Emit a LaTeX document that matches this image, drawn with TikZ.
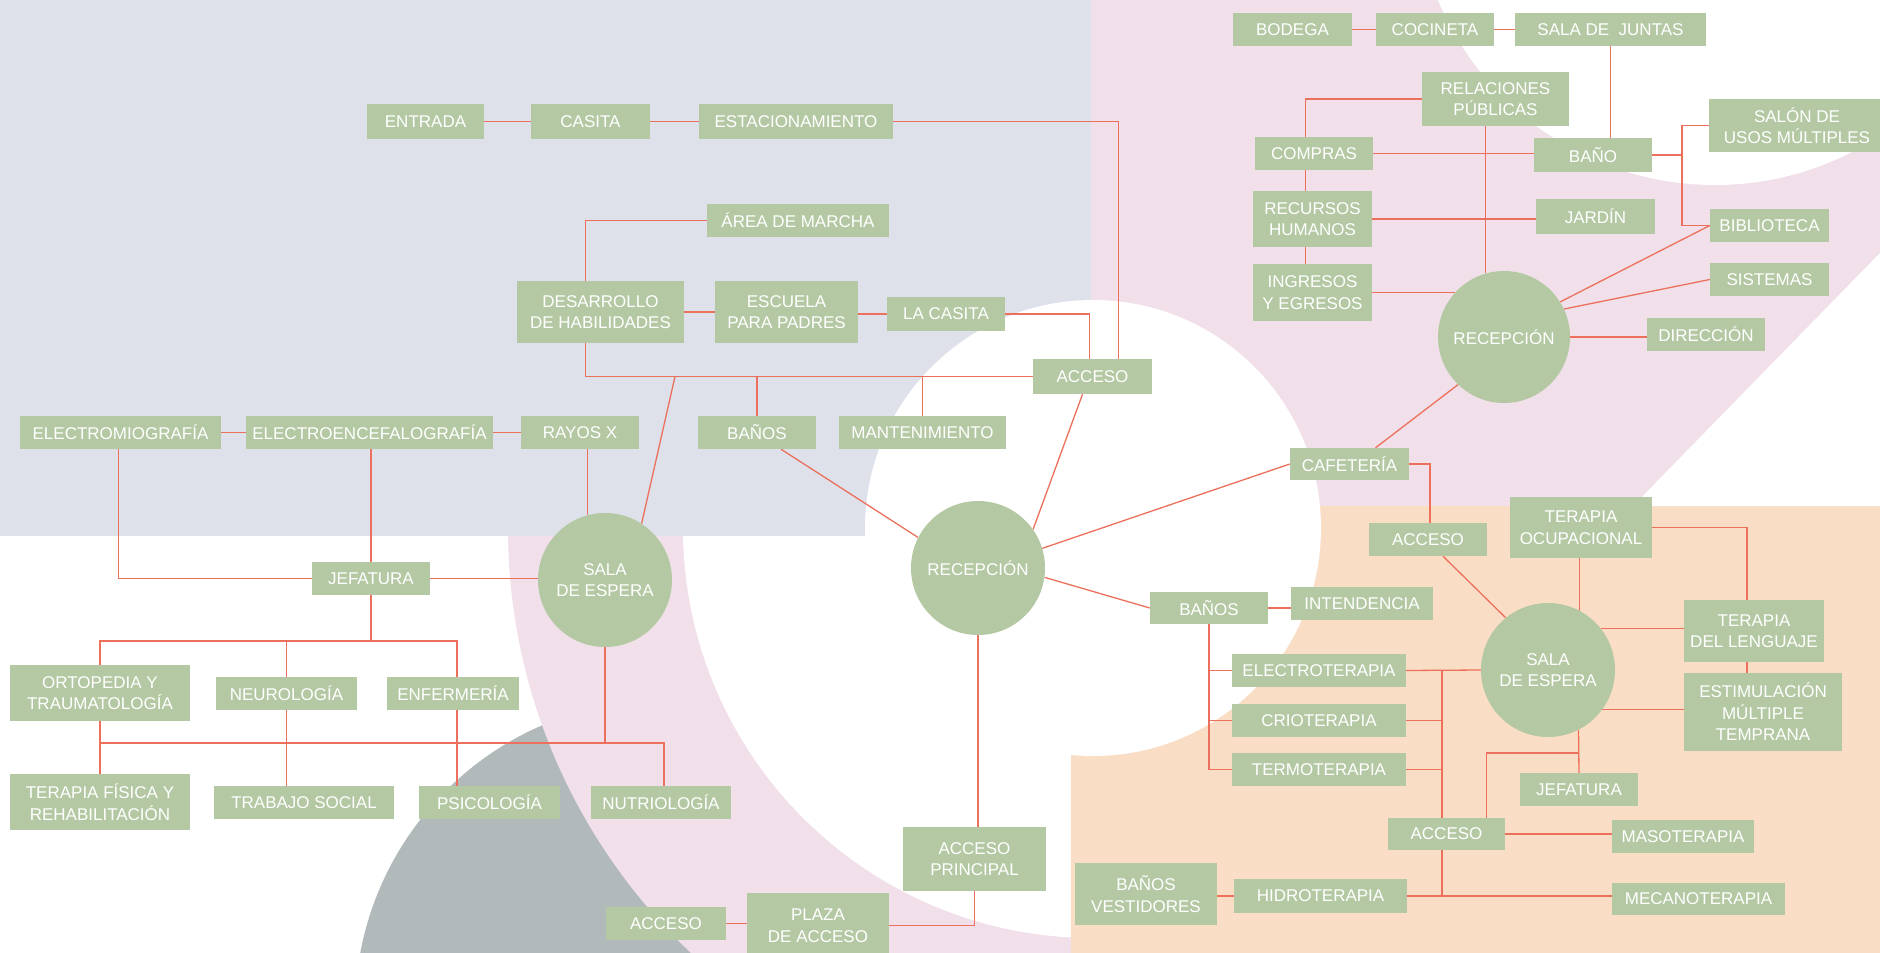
\documentclass[tikz,border=0pt]{standalone}
\usepackage{fontspec}
\setmainfont{Liberation Sans}
\definecolor{boxgreen}{RGB}{180,201,163}
\definecolor{linered}{RGB}{236,112,92}
\definecolor{lavbg}{RGB}{222,225,234}
\definecolor{pinkbg}{RGB}{241,224,234}
\definecolor{peachbg}{RGB}{250,221,197}
\definecolor{greybg}{RGB}{177,185,187}
\pgfdeclarelayer{back}
\pgfdeclarelayer{wires}
\pgfsetlayers{back,wires,main}
\begin{document}
\begin{tikzpicture}[x=1pt, y=-1pt,
  room/.style={fill=boxgreen, text=white, inner sep=0pt, minimum height=33pt, align=center, font=\fontsize{17}{21.5}\selectfont},
  hub/.style={circle, fill=boxgreen, text=white, inner sep=0pt, minimum size=134pt, align=center, font=\fontsize{17}{21.5}\selectfont},
  link/.style={draw=linered, line width=1.3pt}]
\useasboundingbox (0,0) rectangle (1880,953);
% background
\begin{pgfonlayer}{back}
\fill[white] (0,0) rectangle (1880,953);
\fill[greybg] (665,1010) circle[radius=310pt];
\fill[pinkbg] (1093,528) circle[radius=585pt];
\fill[white] (1093,528) circle[radius=410pt];
\fill[lavbg] (0,0) rectangle (1091,536);
\fill[pinkbg] (1091,0) rectangle (1880,506);
\fill[peachbg] (1071,506) rectangle (1880,953);
\fill[white] (1715,-115) circle[radius=300pt];
\fill[white] (1880,253) -- (1633,506) -- (1880,506) -- cycle;
\fill[white] (1093,528) circle[radius=228pt];
\end{pgfonlayer}
% upper left
\node[room, minimum width=117pt, minimum height=35pt] (entrada) at (425.5,121.5) {ENTRADA};
\node[room, minimum width=119pt, minimum height=35pt] (casita) at (590.5,121.5) {CASITA};
\node[room, minimum width=194pt, minimum height=35pt] (estac) at (796,121.5) {ESTACIONAMIENTO};
\node[room, minimum width=182pt] (marcha) at (798,220.5) {ÁREA DE MARCHA};
\node[room, minimum width=167pt, minimum height=62pt] (desarrollo) at (600.5,312) {DESARROLLO\\DE HABILIDADES};
\node[room, minimum width=143pt, minimum height=62pt] (escuela) at (786.5,312) {ESCUELA\\PARA PADRES};
\node[room, minimum width=118pt, minimum height=34pt] (lacasita) at (946,314) {LA CASITA};
\node[room, minimum width=119pt, minimum height=35pt] (acceso1) at (1092.5,376.5) {ACCESO};
\node[room, minimum width=118pt] (banos1) at (757,432.5) {BAÑOS};
\node[room, minimum width=167pt] (mant) at (922.5,432.5) {MANTENIMIENTO};
\node[room, minimum width=201pt] (emg) at (120.5,432.5) {ELECTROMIOGRAFÍA};
\node[room, minimum width=247pt] (eeg) at (369.5,432.5) {ELECTROENCEFALOGRAFÍA};
\node[room, minimum width=118pt] (rayos) at (580,432.5) {RAYOS X};
\node[hub] (sala1) at (605,580) {SALA\\DE ESPERA};
\node[hub] (recep1) at (978,568) {RECEPCIÓN};
\node[room, minimum width=118pt] (jef1) at (371,578.5) {JEFATURA};
\node[room, minimum width=180pt, minimum height=56pt] (orto) at (100,693) {ORTOPEDIA Y\\TRAUMATOLOGÍA};
\node[room, minimum width=141pt] (neuro) at (286.5,693.5) {NEUROLOGÍA};
\node[room, minimum width=132pt] (enf) at (453,693.5) {ENFERMERÍA};
\node[room, minimum width=180pt, minimum height=56pt] (tfisica) at (100,802) {TERAPIA FÍSICA Y\\REHABILITACIÓN};
\node[room, minimum width=180pt] (trabajo) at (304,802.5) {TRABAJO SOCIAL};
\node[room, minimum width=141pt] (psico) at (489.5,802.5) {PSICOLOGÍA};
\node[room, minimum width=140pt] (nutri) at (661,802.5) {NUTRIOLOGÍA};
\node[room, minimum width=143pt, minimum height=64pt] (accprin) at (974.5,859) {ACCESO\\PRINCIPAL};
\node[room, minimum width=120pt] (acceso3) at (666,923.5) {ACCESO};
\node[room, minimum width=142pt, minimum height=65pt] (plaza) at (818,925.5) {PLAZA\\DE ACCESO};
% upper right
\node[room, minimum width=119pt] (bodega) at (1292.5,29.5) {BODEGA};
\node[room, minimum width=118pt] (cocineta) at (1435,29.5) {COCINETA};
\node[room, minimum width=191pt] (juntas) at (1610.5,29.5) {SALA DE\ \ JUNTAS};
\node[room, minimum width=147pt, minimum height=54pt] (relaciones) at (1495.5,99) {RELACIONES\\PÚBLICAS};
\node[room, minimum width=118pt] (compras) at (1314,153.5) {COMPRAS};
\node[room, minimum width=118pt, minimum height=34pt] (bano) at (1593,155) {BAÑO};
\node[room, minimum width=176pt, minimum height=53pt] (salon) at (1797,125.5) {SALÓN DE\\USOS MÚLTIPLES};
\node[room, minimum width=119pt, minimum height=56pt] (recursos) at (1312.5,219) {RECURSOS\\HUMANOS};
\node[room, minimum width=119pt, minimum height=35pt] (jardin) at (1595.5,216.5) {JARDÍN};
\node[room, minimum width=119pt] (biblio) at (1769.5,225.5) {BIBLIOTECA};
\node[room, minimum width=119pt, minimum height=57pt] (ingresos) at (1312.5,292.5) {INGRESOS\\Y EGRESOS};
\node[room, minimum width=119pt] (sistemas) at (1769.5,279.5) {SISTEMAS};
\node[room, minimum width=118pt] (direccion) at (1706,334.5) {DIRECCIÓN};
\node[hub, minimum size=132pt] (recep2) at (1504,337) {RECEPCIÓN};
\node[room, minimum width=119pt, minimum height=32pt] (cafe) at (1349.5,464) {CAFETERÍA};
% lower right
\node[room, minimum width=118pt] (acceso2) at (1428,539.5) {ACCESO};
\node[room, minimum width=142pt, minimum height=61pt] (tocup) at (1581,527.5) {TERAPIA\\OCUPACIONAL};
\node[hub] (sala2) at (1548,670) {SALA\\DE ESPERA};
\node[room, minimum width=140pt, minimum height=62pt] (tleng) at (1754,631) {TERAPIA\\DEL LENGUAJE};
\node[room, minimum width=158pt, minimum height=78pt] (estim) at (1763,712) {ESTIMULACIÓN\\MÚLTIPLE\\TEMPRANA};
\node[room, minimum width=118pt, minimum height=32pt] (banos2) at (1209,608) {BAÑOS};
\node[room, minimum width=142pt] (intend) at (1362,603.5) {INTENDENCIA};
\node[room, minimum width=174pt] (electro) at (1319,670.5) {ELECTROTERAPIA};
\node[room, minimum width=174pt] (crio) at (1319,720.5) {CRIOTERAPIA};
\node[room, minimum width=174pt] (termo) at (1319,769.5) {TERMOTERAPIA};
\node[room, minimum width=118pt] (jef2) at (1579,789.5) {JEFATURA};
\node[room, minimum width=117pt, minimum height=32pt] (acceso4) at (1446.5,834) {ACCESO};
\node[room, minimum width=142pt] (maso) at (1683,836.5) {MASOTERAPIA};
\node[room, minimum width=142pt, minimum height=62pt] (vestidores) at (1146,894) {BAÑOS\\VESTIDORES};
\node[room, minimum width=173pt, minimum height=34pt] (hidro) at (1320.5,896) {HIDROTERAPIA};
\node[room, minimum width=173pt, minimum height=32pt] (mecano) at (1698.5,899) {MECANOTERAPIA};
% connectors
\begin{pgfonlayer}{wires}
\draw[link] (entrada) -- (casita);
\draw[link] (casita) -- (estac);
\draw[link] (estac.east) -| ([xshift=26]acceso1.north);
\draw[link] (marcha.west) -| ([xshift=-15]desarrollo.north);
\draw[link] (desarrollo) -- (escuela);
\draw[link] (lacasita.west -| escuela.east) -- (lacasita.west);
\draw[link] (lacasita.east) -| ([xshift=-3]acceso1.north);
\draw[link] ([xshift=-15]desarrollo.south) |- (acceso1.west);
\coordinate (h1) at (675,376.5);
\draw[link] (h1) -- (sala1.57);
\draw[link] (banos1.north) -- (banos1.north |- acceso1.west);
\draw[link] (mant.north) -- (mant.north |- acceso1.west);
\draw[link] ([xshift=24]banos1.south) -- (recep1.153);
\draw[link] ([xshift=-10]acceso1.south) -- (recep1.35);
\draw[link] (recep1.17) -- (cafe.west);
\draw[link] (recep1.-8) -- (banos2.west);
\draw[link] (recep1.south) -- (recep1.south |- accprin.north);
\draw[link] (accprin.south) |- (plaza.east);
\draw[link] (acceso3.east) -- (acceso3.east -| plaza.west);
\draw[link] (emg) -- (eeg);
\draw[link] (eeg) -- (rayos);
\draw[link] ([xshift=-2]emg.south) |- (jef1.west);
\draw[link] (jef1.north) -- (jef1.north |- eeg.south);
\draw[link] (jef1.east) -- (jef1.east -| sala1.west);
\draw[link] (sala1.105) -- (sala1.105 |- rayos.south);
\coordinate (lvl1) at (0,641);
\coordinate (lvl2) at (0,743);
\draw[link] (jef1.south) -- (jef1.south |- lvl1);
\draw[link] (orto.north) |- ([xshift=4]enf.north |- lvl1) -- ([xshift=4]enf.north);
\draw[link] (neuro.north) -- (neuro.north |- lvl1);
\draw[link] (orto.south) -- (tfisica.north);
\draw[link] (orto.south |- lvl2) -| ([xshift=3]nutri.north);
\draw[link] (sala1.south) -- (sala1.south |- lvl2);
\draw[link] (neuro.south) -- (neuro.south |- trabajo.north);
\draw[link] ([xshift=4]enf.south) -- ([xshift=4]enf.south |- psico.north);
\draw[link] (bodega) -- (cocineta);
\draw[link] (cocineta) -- (juntas);
\draw[link] (juntas.south) -- (juntas.south |- bano.north);
\draw[link] (relaciones.west) -| ([xshift=-7]ingresos.north);
\draw[link] (recep2.106) -- (recep2.106 |- relaciones.south);
\draw[link] (compras.east) -- (compras.east -| bano.west);
\draw[link] (recursos.east) -- (recursos.east -| jardin.west);
\draw[link] (ingresos.east) -- (ingresos.east -| recep2.138);
\coordinate (bs) at (1682,155);
\draw[link] (bano.east) -- (bs);
\draw[link] (salon.west) -| (bs) |- (biblio.west);
\draw[link] (biblio.west) -- (recep2.32);
\draw[link] (sistemas.west) -- (recep2.25);
\draw[link] (recep2.east) -- (recep2.east -| direccion.west);
\draw[link] (recep2.226) -- ([xshift=26]cafe.north);
\draw[link] (cafe.east) -| ([xshift=2]acceso2.north);
\draw[link] ([xshift=15]acceso2.south) -- (sala2.129);
\draw[link] (sala2.62) -- (sala2.62 |- tocup.south);
\draw[link] (tocup.east) -| ([xshift=-7]tleng.north);
\draw[link] (sala2.38) -- (sala2.38 -| tleng.west);
\draw[link] ([xshift=-7]tleng.south) -- ([xshift=-7]tleng.south |- estim.north);
\draw[link] (sala2.-36) -- (sala2.-36 -| estim.west);
\draw[link] (banos2.east) -- (banos2.east -| intend.west);
\draw[link] (banos2.south) |- (termo.west);
\draw[link] (banos2.south |- electro.west) -- (electro.west);
\draw[link] (banos2.south |- crio.west) -- (crio.west);
\draw[link] (electro.east) -- (sala2.west);
\coordinate (vx) at (1442,0);
\draw[link] (vx |- electro.east) -- (vx |- hidro.east);
\draw[link] (crio.east) -- (vx |- crio.east);
\draw[link] (termo.east) -- (vx |- termo.east);
\draw[link] (hidro.east) -- (hidro.east -| mecano.west);
\draw[link] (vestidores.east |- hidro.west) -- (hidro.west);
\draw[link] (acceso4.east) -- (acceso4.east -| maso.west);
\coordinate (sj) at (1579,753);
\draw[link] (sala2.-63) -- (jef2.north);
\draw[link] ([xshift=40]acceso4.north) |- (sj);
\end{pgfonlayer}
\end{tikzpicture}
\end{document}
